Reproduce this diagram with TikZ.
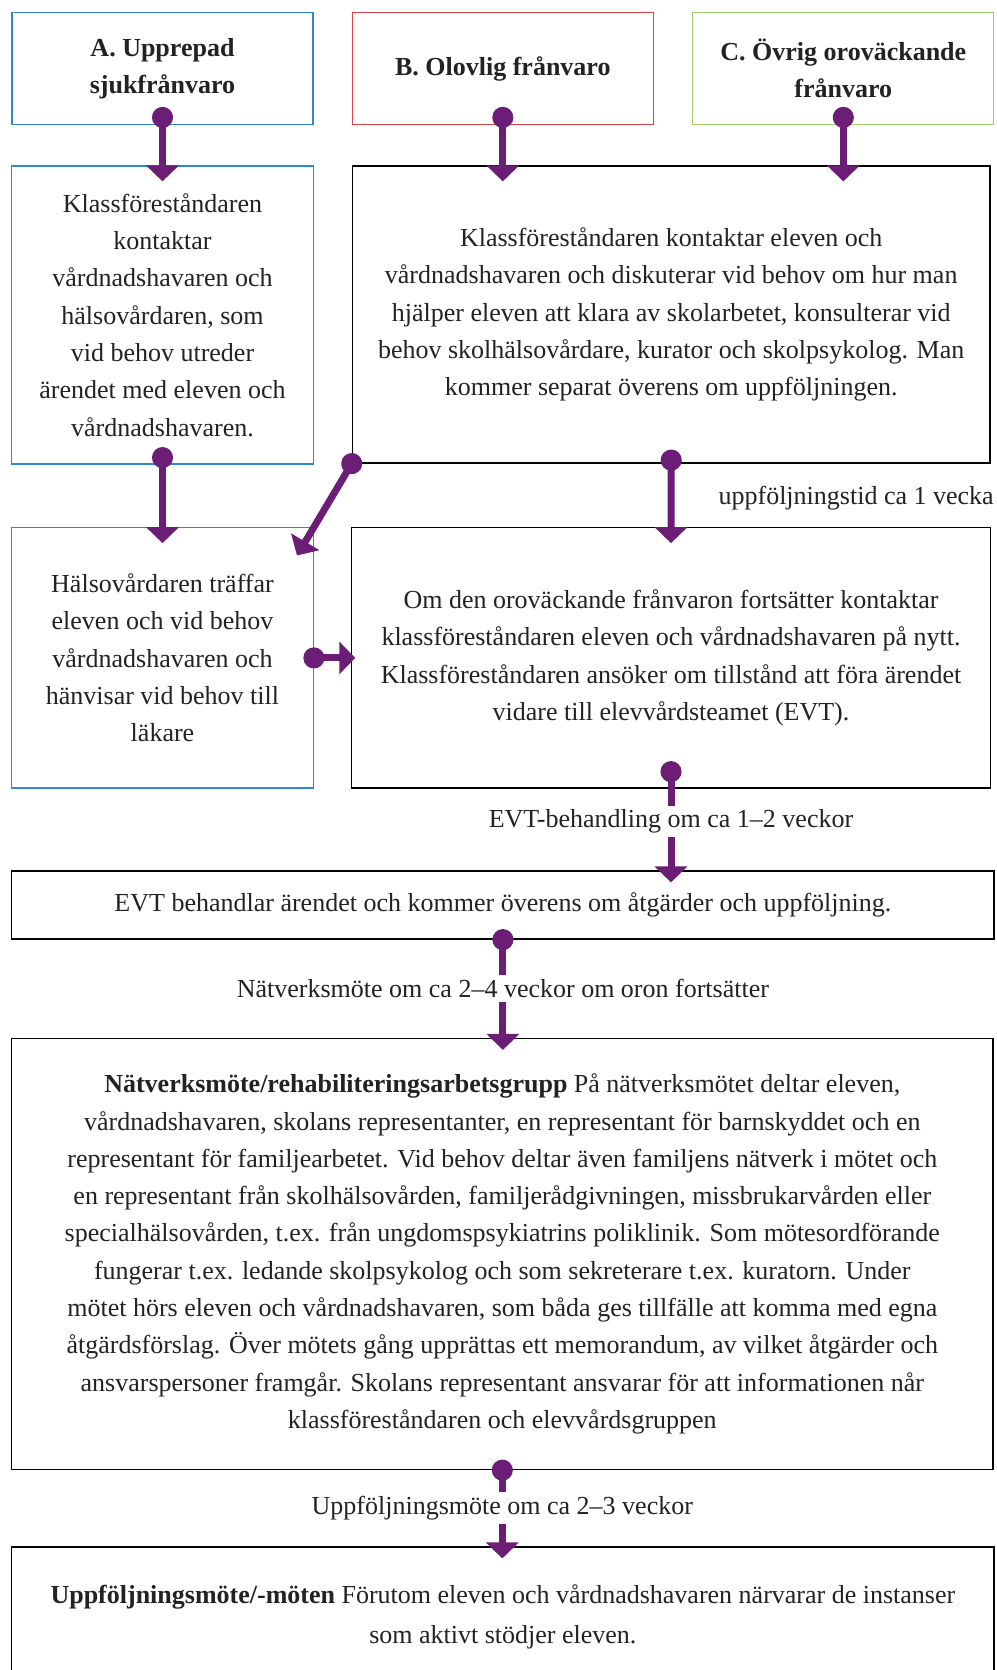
\documentclass[tikz,border=0pt]{standalone}
\usepackage{fontspec}
\setmainfont{Liberation Serif}
\usetikzlibrary{arrows.meta}

\begin{document}
\begin{tikzpicture}[x=1pt,y=-1pt,
  mybox/.style={draw,line width=1.2pt,inner sep=0pt,align=center,text=inkgray,font=\fontsize{26}{37.3}\selectfont},
  mylink/.style={draw=purp,line width=7pt,{Circle[length=21pt]}-{Triangle[width=32pt,length=16pt]},shorten <=-10.5pt,shorten >=-16pt},
  mylabel/.style={fill=white,inner sep=4pt,text=inkgray,font=\fontsize{26}{30}\selectfont}]
\definecolor{purp}{HTML}{6C1D75}
\definecolor{inkgray}{HTML}{222222}
\definecolor{boxblue}{HTML}{2E88D4}
\definecolor{boxred}{HTML}{E0424B}
\definecolor{boxgreen}{HTML}{9BD06A}
\useasboundingbox (0,0) rectangle (996,1670);
  \foreach \nm/\crlr/\xx/\txt in {a1/boxblue/162.5/{A. Upprepad\\sjukfrånvaro},b1/boxred/502.8/{B. Olovlig frånvaro},c1/boxgreen/843.3/{C. Övrig oroväckande\\frånvaro}}
  {  \node [mybox,draw=\crlr,minimum width=301,minimum height=111.6,font=\fontsize{26}{37.3}\selectfont\bfseries] (\nm) at (\xx,68.5) {\txt};}
\node [mybox,draw=boxblue,minimum width=301.6,minimum height=298] (a2) at (162.5,315) {Klassföreståndaren\\kontaktar\\vårdnadshavaren och\\hälsovårdaren, som\\vid behov utreder\\ärendet med eleven och\\vårdnadshavaren.};
\node [mybox,minimum width=637.7,minimum height=297] (b2) at (671.2,314.5) {Klassföreståndaren kontaktar eleven och\\vårdnadshavaren och diskuterar vid behov om hur man\\hjälper eleven att klara av skolarbetet, konsulterar vid\\behov skolhälsovårdare, kurator och skolpsykolog. Man\\kommer separat överens om uppföljningen.};
\node [mybox,draw=boxblue,minimum width=301.6,minimum height=260.3] (a3) at (162.5,657.9) {Hälsovårdaren träffar\\eleven och vid behov\\vårdnadshavaren och\\hänvisar vid behov till\\läkare};
\node [mybox,minimum width=638.3,minimum height=260.3] (b3) at (671,657.9) {Om den oroväckande frånvaron fortsätter kontaktar\\klassföreståndaren eleven och vårdnadshavaren på nytt.\\Klassföreståndaren ansöker om tillstånd att föra ärendet\\vidare till elevvårdsteamet (EVT).};
\node [mybox,minimum width=982.3,minimum height=68] (evt) at (502.9,905) {EVT behandlar ärendet och kommer överens om åtgärder och uppföljning.};
\node [mybox,minimum width=981.5,minimum height=431] (nat) at (502.3,1254) {\textbf{Nätverksmöte/rehabiliteringsarbetsgrupp} På nätverksmötet deltar eleven,\\vårdnadshavaren, skolans representanter, en representant för barnskyddet och en\\representant för familjearbetet. Vid behov deltar även familjens nätverk i mötet och\\en representant från skolhälsovården, familjerådgivningen, missbrukarvården eller\\specialhälsovården, t.ex. från ungdomspsykiatrins poliklinik. Som mötesordförande\\fungerar t.ex. ledande skolpsykolog och som sekreterare t.ex. kuratorn. Under\\mötet hörs eleven och vårdnadshavaren, som båda ges tillfälle att komma med egna\\åtgärdsförslag. Över mötets gång upprättas ett memorandum, av vilket åtgärder och\\ansvarspersoner framgår. Skolans representant ansvarar för att informationen når\\klassföreståndaren och elevvårdsgruppen};
\node [mybox,minimum width=982.3,minimum height=140,font=\fontsize{26}{40}\selectfont] (upf) at (502.9,1617) {\textbf{Uppföljningsmöte/-möten} Förutom eleven och vårdnadshavaren närvarar de instanser\\som aktivt stödjer eleven.};
  \foreach \nm/\to in {a1/a2,b1/b2,c1/b2}
  {  \draw [mylink,shorten <=-18pt] (\nm.south) -- (\nm.south |- \to.north);}
\draw [mylink,shorten <=-17.5pt] (a2.south) -- (a3.north);
\draw [mylink,shorten <=-14pt] (b2.south) -- node [pos=0.55,anchor=west,xshift=44pt,inner sep=0pt,text=inkgray,font=\fontsize{26}{30}\selectfont] {uppföljningstid ca 1 vecka} (b3.north);
\draw [mylink,shorten >=-33pt] (b2.south west) -- (a3.north east);
\draw [mylink,shorten >=-4pt] (a3.east) -- (a3.east -| b3.west);
\draw [mylink,shorten <=-27.5pt,shorten >=-12pt] (b3.south) -- node [mylabel,pos=0.4] {EVT-behandling om ca 1–2 veckor} (b3.south |- evt.north);
\draw [mylink,shorten >=-12pt] (evt.south) -- node [mylabel] {Nätverksmöte om ca 2–4 veckor om oron fortsätter} (evt.south |- nat.north);
\draw [mylink,shorten >=-12pt] (nat.south) -- node [mylabel] {Uppföljningsmöte om ca 2–3 veckor} (nat.south |- upf.north);
\end{tikzpicture}
\end{document}
